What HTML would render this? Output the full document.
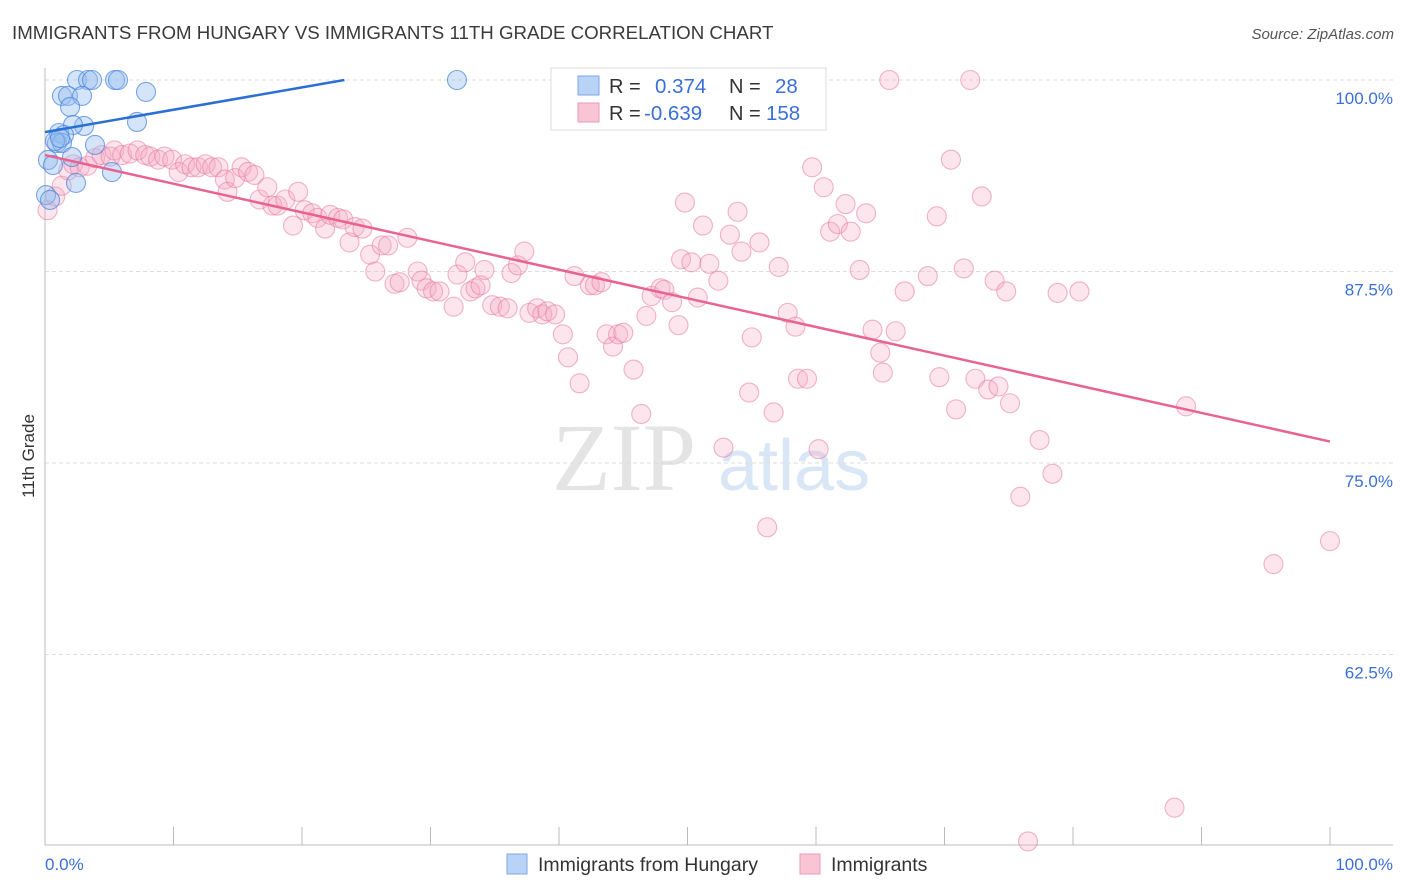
<!DOCTYPE html>
<html><head><meta charset="utf-8"><style>
body{margin:0;background:#fff;font-family:"Liberation Sans",sans-serif}
svg{display:block}
</style></head><body>
<svg id="chart" width="1406" height="892">
<text x="12" y="39" font-size="18.7" fill="#3a3a3a">IMMIGRANTS FROM HUNGARY VS IMMIGRANTS 11TH GRADE CORRELATION CHART</text>
<text x="1394" y="39" font-size="15" fill="#555" font-style="italic" text-anchor="end">Source: ZipAtlas.com</text>
<text x="34" y="456" font-size="17" fill="#333" text-anchor="middle" transform="rotate(-90 34 456)">11th Grade</text>
<g>
<text x="552" y="490" font-size="96" fill="#e4e4e4" font-family="Liberation Serif,serif">ZIP</text>
<text x="718" y="490" font-size="72" fill="#d9e6f6">atlas</text>
</g>
<g id="grid"></g>
<g id="axes"></g>
<g id="pts"></g>
<g id="lines"></g>
<g>
<rect x="551" y="68" width="275" height="62" fill="#fff" stroke="#ddd"/>
<rect x="578" y="76" width="21" height="19" fill="#b8d3f5" stroke="#7ea7e6"/>
<rect x="578" y="103" width="21" height="19" fill="#f9c4d4" stroke="#eb9bb4"/>
<text x="609" y="93" font-size="20" fill="#333">R =</text>
<text x="655" y="93" font-size="20.5" fill="#3a6fd8">0.374</text>
<text x="729" y="93" font-size="20" fill="#333">N =</text>
<text x="775" y="93" font-size="20.5" fill="#3a6fd8">28</text>
<text x="609" y="120" font-size="20" fill="#333">R =</text>
<text x="644" y="120" font-size="20.5" fill="#3a6fd8">-0.639</text>
<text x="729" y="120" font-size="20" fill="#333">N =</text>
<text x="766" y="120" font-size="20.5" fill="#3a6fd8">158</text>
</g>
<g>
<rect x="507" y="854" width="20" height="20" fill="#b8d3f5" stroke="#7ea7e6"/>
<text x="538" y="871" font-size="19.5" fill="#333">Immigrants from Hungary</text>
<rect x="800" y="854" width="20" height="20" fill="#f9c4d4" stroke="#eb9bb4"/>
<text x="831" y="871" font-size="19.5" fill="#333">Immigrants</text>
</g>
</svg>
<script>
const yTicks=[100,87.5,75,62.5];
const yTickLabels=["100.0%","87.5%","75.0%","62.5%"];
const xTickVals=[0,10,20,30,40,50,60,70,80,90,100];
const xEndLabels=["0.0%","100.0%"];
const blueX=[2.49,3.35,3.66,5.45,5.68,32.06,1.32,1.79,2.88,7.86,1.95,3.04,7.16,2.18,1.09,1.48,0.93,1.32,3.89,2.10,0.23,0.62,5.21,2.41,0.08,0.39,0.78,1.17];
const blueY=[100,100,100,100,100,100,98.96,98.96,98.96,99.22,98.24,97.0,97.26,97.06,96.54,96.41,95.89,95.89,95.76,94.97,94.78,94.45,93.99,93.28,92.49,92.17,96.02,96.21];
const pinkX=[0.2,0.8,1.3,1.8,2.2,2.7,3.3,3.9,4.4,5.1,5.4,6.0,6.6,7.2,7.8,8.2,8.8,9.3,9.9,10.4,10.9,11.4,11.9,12.5,13.0,13.5,14.0,14.2,14.8,15.3,15.8,16.3,16.7,17.3,17.7,18.1,18.7,19.3,19.7,20.2,20.8,21.2,21.8,22.2,22.8,23.2,23.7,24.1,24.7,25.3,25.7,26.2,26.7,27.2,27.6,28.2,29.0,29.3,29.7,30.2,30.7,31.8,32.1,32.7,33.1,33.5,33.9,34.2,34.8,35.4,36.0,36.3,36.8,37.3,37.7,38.3,38.7,39.1,39.7,40.3,40.7,41.2,41.6,42.4,42.8,43.3,43.7,44.2,44.6,45.0,45.8,46.4,46.8,47.2,47.9,48.2,48.8,49.3,49.5,49.8,50.3,50.8,51.2,51.7,52.4,52.8,53.3,53.9,54.2,54.8,55.0,55.6,56.2,56.7,57.1,57.8,58.4,58.6,59.3,59.7,60.2,60.6,61.1,61.7,62.3,62.7,63.9,63.4,64.4,65.0,65.2,65.7,66.2,66.9,68.7,69.4,69.6,70.5,70.9,71.5,72.0,72.9,72.4,73.4,73.9,74.2,74.8,75.1,75.9,77.4,78.4,78.8,80.5,88.8,95.6,100.0,87.9,76.5];
const pinkY=[91.5,92.4,93.1,94.1,94.5,94.3,94.4,94.9,95.1,95.0,95.4,95.1,95.2,95.4,95.1,95.0,94.8,95.0,94.8,94.0,94.5,94.3,94.3,94.5,94.3,94.3,93.5,92.7,93.6,94.3,94.0,93.8,92.2,93.0,91.8,91.8,92.2,90.5,92.7,91.5,91.3,91.0,90.3,91.2,91.0,90.9,89.4,90.4,90.3,88.6,87.5,89.2,89.2,86.7,86.8,89.7,87.5,86.9,86.4,86.2,86.2,85.2,87.3,88.1,86.2,86.4,86.6,87.6,85.3,85.2,85.1,87.4,87.9,88.8,84.8,85.1,84.7,84.9,84.7,83.4,81.9,87.2,80.2,86.6,86.6,86.8,83.4,82.6,83.4,83.5,81.1,78.2,84.6,85.9,86.4,86.3,85.5,84.0,88.3,92.0,88.1,85.8,90.5,88.0,86.9,76.0,89.9,91.4,88.8,79.6,83.2,89.4,70.8,78.3,87.8,84.8,83.9,80.5,80.5,94.3,75.9,93.0,90.1,90.6,91.9,90.1,91.3,87.6,83.7,82.2,80.9,100,83.6,86.2,87.2,91.1,80.6,94.8,78.5,87.7,100,92.4,80.5,79.8,86.9,80.0,86.2,78.9,72.8,76.5,74.3,86.1,86.2,78.7,68.4,69.9,52.5,50.3];
const blueTrend=[[0,96.6],[23.3,100]];
const pinkTrend=[[0,95.1],[100,76.4]];

const X0=45,X1=1330,YTOP=80,YSTEP=191.5/12.5;
const sx=v=>X0+(X1-X0)*v/100;
const sy=v=>YTOP+(100-v)*YSTEP;
const NS="http://www.w3.org/2000/svg";
function mk(tag,attrs,parent){const e=document.createElementNS(NS,tag);for(const k in attrs)e.setAttribute(k,attrs[k]);parent.appendChild(e);return e;}
const grid=document.getElementById('grid'),axes=document.getElementById('axes'),pts=document.getElementById('pts'),lines=document.getElementById('lines');
yTicks.forEach((t,i)=>{
 const l=mk('line',{x1:X0,x2:1393,y1:sy(t),y2:sy(t),stroke:'#ddd','stroke-dasharray':'4 3'},grid);
 
 
 const tx=mk('text',{x:1393,y:sy(t)+24,'font-size':17,fill:'#3a6fd8','text-anchor':'end'},axes);
 tx.textContent=yTickLabels[i];
 
 
});
const ax=mk('line',{x1:X0,x2:1393,y1:845,y2:845,stroke:'#bbb'},axes);


const ay=mk('line',{x1:X0,x2:X0,y1:68,y2:845,stroke:'#bbb'},axes);


xTickVals.forEach(v=>{
 const t=mk('line',{x1:sx(v),x2:sx(v),y1:827,y2:845,stroke:'#bbb'},axes);
 
 
});
const xl0=mk('text',{x:45,y:870,'font-size':17,fill:'#3a6fd8'},axes);
xl0.textContent=xEndLabels[0];


const xl1=mk('text',{x:1393,y:870,'font-size':17,fill:'#3a6fd8','text-anchor':'end'},axes);
xl1.textContent=xEndLabels[1];


pinkX.forEach((v,i)=>{
 const c=mk('circle',{cx:sx(v),cy:sy(pinkY[i]),r:9.5,fill:'rgba(245,170,195,0.3)',stroke:'rgba(232,120,160,0.55)','stroke-width':1.1},pts);
 
 
});
blueX.forEach((v,i)=>{
 const c=mk('circle',{cx:sx(v),cy:sy(blueY[i]),r:9.5,fill:'rgba(150,190,240,0.4)',stroke:'rgba(70,130,220,0.7)','stroke-width':1.1},pts);
 
 
});
const bl=mk('line',{x1:sx(blueTrend[0][0]),y1:sy(blueTrend[0][1]),x2:sx(blueTrend[1][0]),y2:sy(blueTrend[1][1]),stroke:'#2a6fd6','stroke-width':2.5},lines);


const pl=mk('line',{x1:sx(pinkTrend[0][0]),y1:sy(pinkTrend[0][1]),x2:sx(pinkTrend[1][0]),y2:sy(pinkTrend[1][1]),stroke:'#e8638f','stroke-width':2.5},lines);


</script>
</body></html>
